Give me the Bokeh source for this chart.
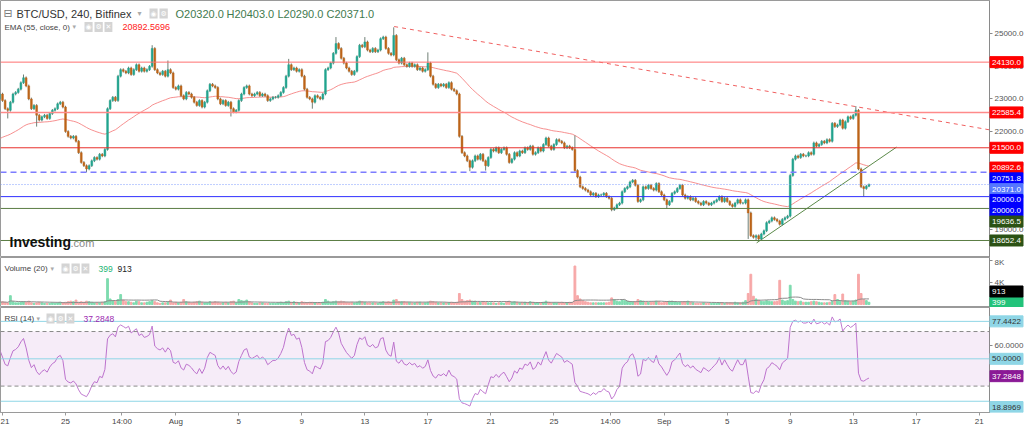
import numpy as np
import pandas as pd
from bokeh.plotting import figure
from bokeh.models import (Range1d, FixedTicker, Label, Span, BoxAnnotation, GridBox,
                          ColumnDataSource, PrintfTickFormatter)
from bokeh.core.properties import value
from bokeh.embed import file_html
from bokeh.resources import INLINE

# ---------------- data ----------------
# BTC/USD 4h closes, Jul 20 20:00 ... Sep 14 00:00, one row per day (00,04,08,12,16,20)
close_jul20 = [23150]
closes_by_day = [
    [22950, 22700, 22650, 22900, 23150, 23200],  # Jul 21
    [23300, 23500, 23650, 23400, 23000, 22700],  # Jul 22
    [22800, 22500, 22350, 22450, 22500, 22400],  # Jul 23
    [22550, 22650, 22700, 22850, 22900, 22750],  # Jul 24
    [22000, 21850, 21800, 21850, 21700, 21350],  # Jul 25
    [21050, 20950, 20850, 20950, 21100, 21200],  # Jul 26
    [21150, 21300, 21250, 21450, 22700, 22950],  # Jul 27
    [23050, 22950, 23700, 23900, 23850, 23800],  # Jul 28
    [23950, 23750, 23900, 24050, 23850, 23950],  # Jul 29
    [23850, 23900, 24000, 24550, 23900, 23800],  # Jul 30
    [23750, 23850, 23700, 23900, 23800, 23350],  # Jul 31
    [23300, 23400, 23100, 23000, 23200, 23150],  # Aug 1
    [23050, 22900, 22800, 22950, 22750, 22900],  # Aug 2
    [23250, 23450, 23400, 23350, 23000, 22850],  # Aug 3
    [22950, 22800, 22900, 22700, 22600, 22650],  # Aug 4
    [22950, 23150, 23350, 23400, 23150, 23100],  # Aug 5
    [23150, 23200, 23100, 23150, 23100, 22950],  # Aug 6
    [23000, 23050, 23050, 23100, 23200, 23350],  # Aug 7
    [23700, 24050, 23900, 23950, 23850, 23900],  # Aug 8
    [23700, 23300, 23050, 23000, 22900, 23100],  # Aug 9
    [23050, 23000, 23150, 23900, 23950, 24100],  # Aug 10
    [24400, 24700, 24550, 24250, 24100, 23950],  # Aug 11
    [23850, 23750, 23850, 24300, 24650, 24600],  # Aug 12
    [24750, 24500, 24450, 24550, 24450, 24500],  # Aug 13
    [24850, 24900, 24550, 24400, 24350, 24950],  # Aug 14
    [24200, 24100, 24250, 24050, 24000, 24100],  # Aug 15
    [24000, 24050, 23900, 23950, 23850, 23900],  # Aug 16
    [24100, 23700, 23450, 23350, 23450, 23400],  # Aug 17
    [23450, 23350, 23500, 23300, 23250, 23150],  # Aug 18
    [21850, 21350, 21250, 21100, 20900, 21100],  # Aug 19
    [21250, 21150, 21300, 21100, 20950, 21200],  # Aug 20
    [21450, 21400, 21500, 21350, 21450, 21500],  # Aug 21
    [21300, 21050, 21150, 21350, 21250, 21400],  # Aug 22
    [21350, 21500, 21450, 21550, 21300, 21350],  # Aug 23
    [21500, 21400, 21600, 21800, 21550, 21450],  # Aug 24
    [21600, 21750, 21700, 21650, 21500, 21550],  # Aug 25
    [21500, 21450, 20800, 20600, 20300, 20250],  # Aug 26
    [20200, 20150, 20050, 20100, 20000, 20050],  # Aug 27
    [20050, 20100, 20000, 19950, 19600, 19650],  # Aug 28
    [19750, 19800, 20150, 20250, 20300, 20450],  # Aug 29
    [20500, 20350, 19850, 19900, 20300, 20250],  # Aug 30
    [20350, 20250, 20200, 20400, 20150, 20050],  # Aug 31
    [19900, 19750, 19850, 20100, 20150, 20250],  # Sep 1
    [20350, 20050, 19950, 20000, 19900, 19950],  # Sep 2
    [19850, 19800, 19750, 19850, 19800, 19750],  # Sep 3
    [19800, 19850, 19900, 20000, 19850, 19950],  # Sep 4
    [19850, 19750, 19700, 19800, 19900, 19800],  # Sep 5
    [19800, 19900, 19500, 18800, 18750, 18800],  # Sep 6
    [18700, 18850, 18950, 19200, 19250, 19350],  # Sep 7
    [19300, 19250, 19150, 19300, 19350, 19400],  # Sep 8
    [20650, 21150, 21250, 21200, 21300, 21250],  # Sep 9
    [21250, 21350, 21300, 21650, 21550, 21600],  # Sep 10
    [21700, 21650, 21750, 21700, 22250, 22150],  # Sep 11
    [22200, 22350, 22100, 22300, 22450, 22400],  # Sep 12
    [22500, 22650, 20850, 20300, 20250, 20320],  # Sep 13
]
close_sep14 = [20371.0]
first_open = 23000.0
last_ohlc = [20320.0, 20403.0, 20290.0, 20371.0]

# notable wicks (candle index -> price)
wick_high = {9: 23750, 58: 24650, 64: 24180, 110: 24230, 128: 24900, 139: 24900,
             150: 25200, 163: 24430, 219: 21880, 301: 20700, 326: 22780, 331: 20403.0}
wick_low = {3: 22400, 14: 22150, 33: 20750, 88: 22460, 119: 22700, 179: 20780,
            185: 20800, 233: 19550, 254: 19620, 285: 18700, 288: 18652.4,
            329: 20000, 331: 20290.0}
WICK = 40.0

# volume in thousands, same layout as closes
vol_k_jul20 = [0.4]
vol_k_by_day = [
    [0.5, 0.4, 0.3, 1.6, 0.5, 0.3], [0.3, 0.4, 0.5, 0.4, 0.6, 0.3],
    [0.2, 0.3, 0.4, 0.3, 0.2, 0.2], [0.2, 0.3, 0.2, 0.3, 0.4, 0.3],
    [0.4, 0.5, 0.6, 0.5, 0.8, 0.4], [0.5, 0.4, 0.6, 0.5, 0.4, 0.3],
    [0.3, 0.3, 0.4, 0.5, 4.7, 1.0], [0.7, 0.6, 0.9, 1.8, 0.8, 0.5],
    [0.5, 0.4, 0.3, 0.6, 0.5, 0.3], [0.3, 0.4, 0.5, 0.7, 0.5, 0.3],
    [0.2, 0.3, 0.3, 0.4, 0.8, 0.3], [0.4, 0.3, 0.4, 0.9, 0.5, 0.4],
    [0.3, 0.4, 0.5, 0.6, 0.4, 0.3], [0.3, 0.5, 0.4, 0.5, 0.4, 0.3],
    [0.3, 0.4, 0.3, 0.5, 0.6, 0.3], [0.9, 0.7, 0.6, 0.8, 0.5, 0.3],
    [0.2, 0.2, 0.3, 0.3, 0.2, 0.2], [0.2, 0.2, 0.2, 0.3, 0.4, 0.3],
    [0.5, 0.6, 0.4, 0.5, 0.4, 0.3], [0.5, 0.4, 0.3, 0.4, 0.4, 0.3],
    [0.3, 0.3, 0.4, 0.9, 0.6, 0.4], [0.5, 0.6, 0.5, 0.6, 0.5, 0.4],
    [0.3, 0.4, 0.3, 0.4, 0.6, 0.5], [0.4, 0.3, 0.3, 0.3, 0.3, 0.2],
    [0.4, 0.5, 0.4, 0.5, 0.4, 0.8], [0.9, 0.5, 0.5, 0.5, 0.4, 0.4],
    [0.3, 0.3, 0.4, 0.4, 0.3, 0.3], [0.4, 0.6, 0.5, 0.4, 0.3, 0.3],
    [0.3, 0.3, 0.3, 0.4, 0.3, 0.4], [2.0, 0.9, 0.6, 0.7, 0.8, 0.6],
    [0.6, 0.4, 0.4, 0.5, 0.4, 0.3], [0.3, 0.3, 0.2, 0.3, 0.3, 0.2],
    [0.5, 0.6, 0.4, 0.5, 0.4, 0.3], [0.4, 0.4, 0.3, 0.5, 0.4, 0.3],
    [0.3, 0.3, 0.4, 0.6, 0.4, 0.3], [0.3, 0.3, 0.3, 0.4, 0.3, 0.3],
    [0.4, 0.4, 7.0, 1.6, 1.0, 0.7], [0.5, 0.4, 0.3, 0.3, 0.3, 0.3],
    [0.3, 0.3, 0.3, 0.4, 1.2, 0.9], [0.6, 0.5, 0.8, 0.7, 0.6, 0.4],
    [0.5, 0.5, 0.9, 0.7, 0.6, 0.4], [0.4, 0.4, 0.5, 0.6, 0.5, 0.3],
    [0.4, 0.5, 0.6, 0.6, 0.5, 0.4], [0.4, 0.5, 0.5, 0.6, 0.4, 0.3],
    [0.2, 0.2, 0.2, 0.3, 0.2, 0.2], [0.2, 0.2, 0.2, 0.3, 0.3, 0.2],
    [0.3, 0.3, 0.3, 0.4, 0.3, 0.3], [0.4, 0.7, 2.0, 5.5, 1.5, 1.0],
    [0.8, 0.6, 0.5, 0.7, 0.6, 0.5], [0.5, 0.6, 4.4, 0.8, 0.6, 0.7],
    [3.5, 0.9, 0.6, 0.5, 0.6, 0.4], [0.4, 0.4, 0.5, 0.6, 0.5, 0.4],
    [0.3, 0.3, 0.3, 0.4, 0.6, 1.8], [0.9, 0.6, 1.9, 0.7, 0.6, 0.5],
    [0.6, 0.8, 5.5, 2.0, 0.9, 0.7],
]
vol_k_sep14 = [0.399]

ema_seed = 21730.0
ema_last = 20892.5696
rsi_seed_gain, rsi_seed_loss = 85.0, 75.0
rsi_last = 37.2848
vol_last, vol_ma_last = 399, 913

level_prices = [24130.0, 22585.4, 21500.0, 20751.8, 20371.0, 20000.0, 19636.5, 18652.4]
tag_prices = [24130.0, 22585.4, 21500.0, 20892.6, 20751.8, 20371.0, 20000.0, 20000.0, 19636.5, 18652.4]
trend_red_days = [24.86, 62.65]
trend_red_prices = [25224, 22051]
trend_green_days = [47.87, 56.75]
trend_green_prices = [18580, 21520]

price_ticks = [19000, 20000, 21000, 22000, 23000, 24000, 25000]
rsi_levels = [77.4422, 50.0, 18.8969]
x_tick_days = [0, 4, 7.583, 11, 15, 19, 23, 27, 31, 35, 38.583, 42, 46, 50, 54, 58, 62]
x_tick_labels = ["21", "25", "14:00", "Aug", "5", "9", "13", "17", "21", "25",
                 "14:00", "Sep", "5", "9", "13", "17", "21"]

# ---------------- derived series ----------------
closes = np.array(close_jul20 + [v for d in closes_by_day for v in d] + close_sep14, float)
n = len(closes)
t = (np.arange(n) - 1) / 6.0          # days since Jul 21 00:00
opens = np.concatenate([[first_open], closes[:-1]])
highs = np.maximum(opens, closes) + WICK
lows = np.minimum(opens, closes) - WICK
for k, v in wick_high.items():
    highs[k] = v
for k, v in wick_low.items():
    lows[k] = v
highs[-1], lows[-1] = last_ohlc[1], last_ohlc[2]
up = closes >= opens

vol = np.array(vol_k_jul20 + [v for d in vol_k_by_day for v in d] + vol_k_sep14) * 1000
vol_ma = pd.Series(vol).rolling(20, min_periods=1).mean().values

alpha = 2.0 / 56.0
ema = np.empty(n)
e = ema_seed
for i in range(n):
    e = e + alpha * (closes[i] - e)
    ema[i] = e

rsi = np.empty(n)
ag, al = rsi_seed_gain, rsi_seed_loss
prev = first_open
for i in range(n):
    d = closes[i] - prev
    prev = closes[i]
    ag = (ag * 13 + max(d, 0)) / 14
    al = (al * 13 + max(-d, 0)) / 14
    rsi[i] = 100 - 100 / (1 + ag / al)

UP, DOWN = "#22a48f", "#bd6419"
src = ColumnDataSource(dict(
    t=t, o=opens, c=closes, h=highs, l=lows,
    top=np.maximum(opens, closes), bot=np.minimum(opens, closes),
    col=[UP if u else DOWN for u in up],
    vcol=["#7fdcb0" if u else "#f7a8a8" for u in up],
    vol=vol))

# ---------------- layout ----------------
W = 989          # plotting frame width
FULL = 1024
XR = Range1d(-0.127, 62.65)
FONT = "Liberation Sans"


def base(h, yr, xaxis=False):
    f = figure(frame_width=W, frame_height=h, x_range=XR, y_range=yr,
               output_backend="svg", toolbar_location=None,
               y_axis_location="right", x_axis_location="below" if xaxis else None,
               min_border=0, min_border_left=0, min_border_right=0,
               min_border_top=0, min_border_bottom=0)
    f.grid.visible = False
    f.outline_line_color = "#9a9a9a"
    f.background_fill_color = "white"
    f.border_fill_color = "white"
    ax = f.yaxis[0]
    ax.axis_line_color = "#8a8a8a"
    ax.major_tick_line_color = "#8a8a8a"
    ax.major_tick_out = 3
    ax.major_tick_in = 0
    ax.minor_tick_out = 0
    ax.minor_tick_in = 0
    ax.major_label_standoff = 2
    ax.major_label_text_font_size = "8px"
    ax.major_label_text_color = "#555555"
    ax.major_label_text_font = FONT
    return f


def overlay(h, yr, items, bottom=0):
    """transparent layer over a whole pane (incl. its scale), sharing the value range,
    used for the coloured price tags that sit on the scale"""
    o = figure(frame_width=FULL, frame_height=h, x_range=Range1d(0, FULL), y_range=yr,
               output_backend="svg", toolbar_location=None,
               x_axis_location=None, y_axis_location=None,
               min_border=0, min_border_left=0, min_border_right=0,
               min_border_top=0, min_border_bottom=bottom)
    o.frame_align = False
    o.grid.visible = False
    o.outline_line_color = None
    o.background_fill_color = None
    o.border_fill_color = None
    ys, texts, bgs, fgs = zip(*items)
    ds = ColumnDataSource(dict(y=list(ys), text=list(texts), bg=list(bgs), fg=list(fgs)))
    o.rect(x=W + 17, y="y", width=33, height=11, height_units="screen", source=ds,
           fill_color="bg", line_color="bg")
    o.text(x=W + 2.5, y="y", text="text", source=ds, text_color="fg",
           text_font=value(FONT), text_font_size=value("8px"),
           text_baseline="middle", text_align="left")
    return o


def txt(f, h, x, y_top, s, size, color, style="normal", font=FONT, bg=None):
    f.add_layout(Label(x=x, y=h - y_top, x_units="screen", y_units="screen", text=s,
                       text_font_size=f"{size}px", text_color=color, text_font=font,
                       text_font_style=style, text_baseline="middle", text_align="left",
                       background_fill_color=bg, padding=1 if bg else 0))


def icons(f, h, x, y_top, chars):
    for j, ch in enumerate(chars):
        txt(f, h, x + j * 10, y_top, ch, 7, "white", font="DejaVu Sans", bg="#d4d4d4")


def stack(vals, px_per_unit, gap_px=10.8):
    out = []
    for v in vals:
        out.append(v if not out else min(v, out[-1] - gap_px / px_per_unit))
    return out


# ---- price pane ----
PH = 257
PY = Range1d(18130, 26023)
p = base(PH, PY)
p.yaxis.ticker = FixedTicker(ticks=price_ticks)
p.yaxis.formatter = PrintfTickFormatter(format="%.1f")

lvl_colors = ["#ff7070", "#ff8a8a", "#e8302c", "#7d7dff", "#7f9cff", "#3030ff", "#5b7d43", "#5b7d43"]
lvl_dash = ["solid", "solid", "solid", "6 4", "1 2", "solid", "solid", "solid"]
lvl_width = [1, 1.6, 1, 1.5, 1, 1, 1, 1]
for v, c, d, w in zip(level_prices, lvl_colors, lvl_dash, lvl_width):
    p.add_layout(Span(location=v, dimension="width", line_color=c, line_dash=d, line_width=w))

p.line(trend_red_days, trend_red_prices, line_color="#f06060", line_dash="4 4", line_width=1)
p.line(trend_green_days, trend_green_prices, line_color="#5b8a4a", line_width=1)
p.line(t, ema, line_color="#f47c7c", line_width=1, line_alpha=0.85)

p.segment(x0="t", y0="l", x1="t", y1="h", source=src, line_color="#6f7f76", line_width=1)
p.vbar(x="t", width=0.115, top="top", bottom="bot", source=src,
       fill_color="col", line_color="col", line_width=0.5)

tag_cols = ["#ff0000", "#ff0000", "#ff0000", "#ff0000", "#0000ff", "#5577ff",
            "#0000ff", "#0000ff", "#2c5215", "#2c5215"]
tag_pos = stack(tag_prices, PH / (PY.end - PY.start))
op = overlay(PH, PY, [(y, f"{v:.1f}", c, "white") for v, y, c in zip(tag_prices, tag_pos, tag_cols)])

# legends
txt(p, PH, 3, 13, "⊟", 11, "#777777", font="DejaVu Sans")
txt(p, PH, 16, 13, "BTC/USD, 240, Bitfinex", 11, "#333333")
txt(p, PH, 137, 13, "▾", 8, "#aaaaaa", font="DejaVu Sans")
icons(p, PH, 149, 13, ["◉", "⚙"])
o_, h_, l_, c_ = last_ohlc
for x0, lab, v in [(175, "O", o_), (226, "H", h_), (277, "L", l_), (326, "C", c_)]:
    txt(p, PH, x0, 13, f"{lab}{v:.1f}", 11, "#3f7a4e")
txt(p, PH, 4, 26.5, "EMA (55, close, 0)", 8, "#444444")
txt(p, PH, 72, 26.5, "▾", 7, "#aaaaaa", font="DejaVu Sans")
icons(p, PH, 84, 26.5, ["◉", "⚙", "✕"])
txt(p, PH, 122, 26.5, f"{ema_last:.4f}", 9, "#ff2020")

txt(p, PH, 9, 241, "Investing", 14, "#111111", style="bold")
txt(p, PH, 70, 242, ".com", 11, "#888888")

# ---- volume pane ----
VH = 50
VY = Range1d(-550, 8550)
pv = base(VH, VY)
pv.yaxis.ticker = FixedTicker(ticks=[4000, 8000])
pv.yaxis.major_label_overrides = {4000: "4K", 8000: "8K"}
pv.vbar(x="t", width=0.115, top="vol", bottom=0, source=src, fill_color="vcol", line_color="vcol")
pv.line(t, vol_ma, line_color="#8c8c8c", line_width=1)
vpx = VH / (VY.end - VY.start)
ov = overlay(VH, VY, [(vol_last, f"{vol_last}", "#22c37a", "white"),
                      (vol_last + 10.8 / vpx, f"{vol_ma_last}", "#000000", "white")])
txt(pv, VH, 4, 11, "Volume (20)", 8, "#444444")
txt(pv, VH, 50, 11, "▾", 7, "#aaaaaa", font="DejaVu Sans")
icons(pv, VH, 61, 11, ["◉", "⚙", "✕"])
txt(pv, VH, 98, 11, f"{vol_last}", 8.5, "#22b573")
txt(pv, VH, 117, 11, f"{vol_ma_last}", 8.5, "#222222")

# ---- RSI pane ----
RH = 105
XAX = 15
RY = Range1d(10.66, 87.6)
pr = base(RH, RY, xaxis=True)
pr.yaxis.ticker = FixedTicker(ticks=[40, 60])
pr.yaxis.formatter = PrintfTickFormatter(format="%.4f")
pr.add_layout(BoxAnnotation(bottom=30, top=70, fill_color="#9c27b0", fill_alpha=0.09, line_alpha=0))
for v in [70, 30]:
    pr.add_layout(Span(location=v, dimension="width", line_color="#8a8a8a", line_dash="4 3", line_width=1))
for v in rsi_levels:
    pr.add_layout(Span(location=v, dimension="width", line_color="#8fd6e6", line_width=1))
pr.line(t, rsi, line_color="#c07ad0", line_width=1)
rpx = RH / (RY.end - RY.start)


def clamp_bottom(v):
    # a tag too close to the pane's lower edge rests on that edge
    return RY.start + 5.5 / rpx if (v - RY.start) * rpx < 12 else v


orr = overlay(RH, RY, [(clamp_bottom(v), f"{v:.4f}", bg, fg) for v, bg, fg in
                       [(77.4422, "#8fd6e6", "#333333"), (50.0, "#8fd6e6", "#333333"),
                        (rsi_last, "#8b1a96", "white"), (18.8969, "#8fd6e6", "#333333")]],
              bottom=XAX)
txt(pr, RH, 4, 11, "RSI (14)", 8, "#444444")
txt(pr, RH, 36, 11, "▾", 7, "#aaaaaa", font="DejaVu Sans")
icons(pr, RH, 46, 11, ["◉", "⚙", "✕"])
txt(pr, RH, 83, 11, f"{rsi_last:.4f}", 8.5, "#9c27b0")

xa = pr.xaxis[0]
xa.ticker = FixedTicker(ticks=x_tick_days)
xa.major_label_overrides = {d: s for d, s in zip(x_tick_days, x_tick_labels)}
xa.major_label_text_font_size = "8px"
xa.major_label_text_color = "#444444"
xa.major_label_text_font = FONT
xa.axis_line_color = "#9a9a9a"
xa.major_tick_line_color = "#9a9a9a"
xa.major_tick_out = 3
xa.major_tick_in = 0
xa.minor_tick_out = 0
xa.minor_tick_in = 0
xa.major_label_standoff = 1

layout = GridBox(children=[(p, 0, 0), (op, 0, 0), (pv, 1, 0), (ov, 1, 0),
                           (pr, 2, 0), (orr, 2, 0)], spacing=0)
open("out.html", "w").write(file_html(layout, INLINE))
